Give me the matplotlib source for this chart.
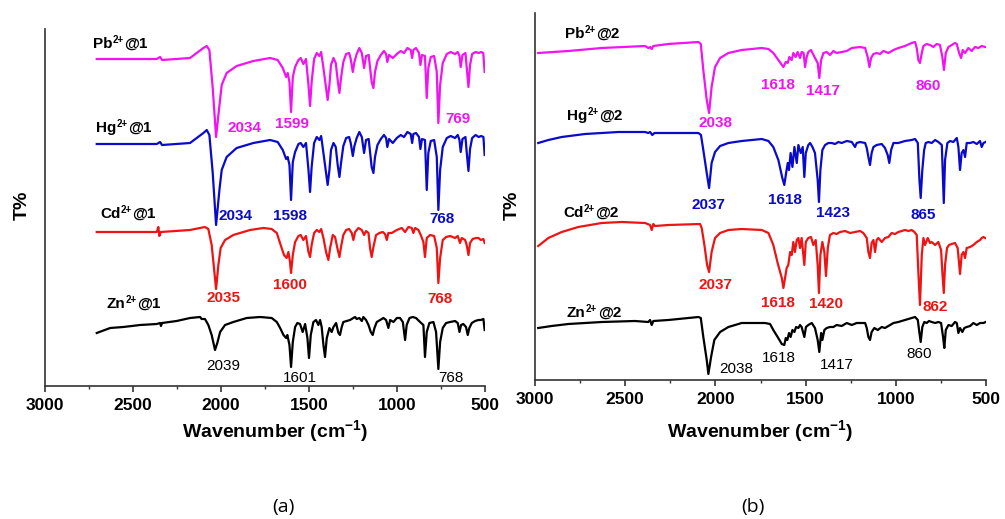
import matplotlib
matplotlib.use("Agg")
import matplotlib.pyplot as plt

plt.rcParams["font.family"] = ["Liberation Sans", "DejaVu Sans"]
plt.rcParams["mathtext.fontset"] = "custom"
plt.rcParams["mathtext.rm"] = "Liberation Sans"
plt.rcParams["mathtext.bf"] = "Liberation Sans:bold"

MAGENTA = "#F014F0"
BLUE = "#0A0ACC"
RED = "#EE1414"
BLACK = "#000000"

# ---- panel (a): M2+@1 spectra (wavenumber, T% with stacking offset) ----
pb1_wn = [2706, 2365, 2346, 2335, 2176, 2100, 2081, 2066, 2047, 2028, 2013, 1996, 1968, 1911, 1816, 1721,
          1678, 1649, 1630, 1621, 1611, 1602, 1592, 1579, 1560, 1547, 1532, 1517, 1503, 1494, 1485, 1471,
          1456, 1441, 1431, 1418, 1403, 1394, 1384, 1375, 1361, 1348, 1337, 1327, 1318, 1305, 1289, 1272,
          1263, 1251, 1242, 1229, 1214, 1200, 1187, 1176, 1161, 1144, 1134, 1125, 1111, 1092, 1074, 1062,
          1055, 1045, 1024, 1001, 979, 960, 941, 922, 914, 907, 892, 875, 867, 858, 841, 831, 822, 808, 789,
          774, 765, 755, 740, 717, 695, 670, 655, 645, 638, 628, 611, 604, 594, 585, 573, 553, 536, 522, 510, 502]
pb1_t = [327, 327, 329, 326, 328, 338, 340, 336, 298, 249, 274, 301, 313, 320, 325, 328,
         326, 318, 309, 313, 304, 274, 309, 319, 326, 328, 322, 327, 301, 280, 304, 327,
         333, 330, 334, 318, 298, 286, 301, 321, 328, 323, 306, 293, 308, 324, 332, 333,
         327, 314, 324, 332, 338, 333, 318, 330, 331, 304, 298, 314, 325, 331, 335, 332,
         324, 331, 328, 332, 335, 333, 338, 336, 328, 336, 338, 333, 321, 331, 330, 288, 318, 329, 330,
         314, 263, 301, 323, 332, 334, 332, 334, 330, 319, 331, 333, 319, 299, 321, 332, 334, 333, 334, 333, 314]

hg1_wn = [2706, 2365, 2346, 2335, 2176, 2100, 2081, 2066, 2047, 2028, 2009, 1996, 1968, 1911, 1816, 1721,
          1678, 1649, 1630, 1621, 1611, 1602, 1592, 1579, 1560, 1547, 1532, 1517, 1503, 1494, 1485, 1471,
          1456, 1441, 1431, 1418, 1403, 1394, 1384, 1375, 1361, 1348, 1337, 1327, 1318, 1305, 1289, 1272,
          1263, 1251, 1242, 1229, 1214, 1200, 1187, 1176, 1161, 1144, 1134, 1125, 1111, 1092, 1074, 1062,
          1055, 1045, 1024, 1001, 979, 960, 941, 922, 914, 907, 892, 875, 867, 858, 841, 831, 822, 808, 789,
          774, 765, 755, 740, 717, 695, 670, 655, 645, 638, 628, 611, 604, 594, 585, 573, 553, 536, 522, 509, 502]
hg1_t = [242, 242, 244, 241, 243, 253, 256, 251, 213, 161, 196, 216, 229, 238, 243, 246,
         244, 236, 227, 229, 221, 186, 224, 234, 242, 243, 239, 243, 216, 194, 219, 243,
         249, 246, 250, 233, 213, 201, 216, 236, 243, 239, 221, 209, 223, 240, 248, 249,
         243, 230, 240, 248, 254, 249, 233, 246, 247, 219, 213, 229, 241, 247, 251, 248,
         239, 247, 243, 248, 251, 249, 254, 252, 243, 252, 253, 249, 237, 247, 246, 196, 233, 245, 246,
         229, 176, 216, 239, 248, 250, 248, 251, 246, 234, 247, 249, 234, 215, 237, 248, 251, 249, 250, 249, 231]

cd1_wn = [2706, 2365, 2356, 2350, 2342, 2176, 2091, 2072, 2053, 2028, 2015, 2002, 1977, 1930, 1835, 1759,
          1712, 1683, 1661, 1642, 1627, 1617, 1608, 1602, 1592, 1579, 1560, 1547, 1532, 1517, 1503, 1494,
          1485, 1471, 1456, 1441, 1431, 1418, 1403, 1390, 1380, 1365, 1352, 1339, 1327, 1318, 1305, 1289,
          1272, 1257, 1248, 1238, 1219, 1200, 1187, 1176, 1162, 1153, 1144, 1134, 1119, 1100, 1081, 1068,
          1058, 1049, 1030, 1001, 973, 954, 935, 916, 907, 897, 878, 865, 850, 841, 831, 812, 789, 774, 765,
          755, 740, 721, 698, 670, 655, 642, 632, 613, 604, 594, 585, 570, 551, 537, 524, 509, 502]
cd1_t = [154, 154, 159, 150, 154, 156, 159, 157, 141, 97, 121, 138, 146, 151, 156, 158,
         157, 153, 141, 131, 128, 134, 124, 113, 131, 144, 150, 151, 146, 150, 134, 129,
         141, 153, 156, 154, 157, 148, 134, 126, 138, 151, 149, 138, 129, 139, 151, 156,
         157, 153, 146, 154, 158, 156, 151, 155, 153, 138, 129, 139, 151, 153, 154, 152,
         146, 153, 153, 156, 158, 154, 159, 158, 153, 158, 156, 151, 144, 129, 148, 151, 150, 138, 103,
         128, 146, 149, 150, 148, 150, 143, 148, 146, 141, 131, 143, 147, 148, 148, 146, 147, 143]

zn1_wn = [2706, 2630, 2555, 2460, 2365, 2346, 2341, 2335, 2252, 2176, 2119, 2110, 2091, 2072, 2053, 2034,
          2021, 2005, 1977, 1930, 1854, 1778, 1712, 1683, 1664, 1645, 1630, 1623, 1611, 1602, 1592, 1579,
          1566, 1551, 1536, 1522, 1509, 1500, 1490, 1475, 1460, 1447, 1437, 1428, 1418, 1409, 1399, 1384,
          1371, 1361, 1346, 1333, 1324, 1314, 1305, 1286, 1267, 1248, 1238, 1229, 1214, 1200, 1191, 1176,
          1162, 1149, 1138, 1128, 1115, 1096, 1077, 1062, 1049, 1039, 1020, 1001, 983, 967, 954, 945, 929,
          911, 892, 869, 850, 841, 831, 816, 793, 778, 765, 755, 740, 721, 698, 670, 655, 645, 636, 623, 608,
          598, 589, 575, 556, 537, 524, 509, 502]
zn1_t = [53, 58, 59, 61, 62, 63, 60, 63, 65, 68, 69, 67, 67, 61, 51, 36,
         43, 54, 61, 64, 68, 69, 68, 64, 58, 51, 48, 51, 41, 19, 44, 59,
         63, 62, 54, 62, 48, 28, 51, 64, 66, 61, 66, 59, 41, 29, 48, 58,
         54, 59, 63, 53, 51, 59, 64, 65, 66, 68, 69, 67, 68, 65, 69, 66,
         61, 54, 51, 58, 64, 66, 68, 66, 58, 66, 64, 68, 68, 64, 46, 61, 68,
         69, 68, 64, 61, 29, 54, 63, 64, 54, 17, 44, 58, 63, 64, 65, 63, 54, 61, 62, 59,
         51, 58, 63, 65, 66, 66, 67, 56]

# ---- panel (b): M2+@2 spectra ----
pb2_wn = [2982, 2815, 2630, 2390, 2372, 2362, 2353, 2344, 2261, 2094, 2081, 2067, 2048, 2035, 2021, 2002,
          1974, 1928, 1854, 1743, 1706, 1679, 1651, 1623, 1610, 1599, 1590, 1577, 1568, 1555, 1544, 1531,
          1522, 1511, 1503, 1494, 1485, 1470, 1448, 1433, 1424, 1414, 1401, 1383, 1365, 1346, 1328, 1300,
          1272, 1244, 1198, 1170, 1156, 1146, 1137, 1124, 1106, 1087, 1069, 1041, 1013, 986, 949, 912, 893,
          884, 875, 866, 856, 847, 829, 810, 792, 773, 755, 742, 733, 723, 708, 690, 672, 662, 649, 638,
          629, 616, 598, 579, 561, 542, 524, 505]
pb2_t = [327, 329, 332, 334, 332, 333, 331, 334, 336, 338, 336, 310, 280, 267, 293, 313,
         322, 327, 330, 332, 331, 327, 320, 313, 318, 317, 323, 320, 327, 323, 328, 322,
         328, 327, 313, 323, 328, 330, 322, 317, 302, 320, 327, 328, 325, 329, 327, 328,
         329, 332, 333, 332, 323, 313, 322, 326, 327, 326, 329, 327, 330, 332, 334, 337, 338,
         332, 320, 317, 327, 334, 336, 335, 333, 336, 335, 323, 310, 327, 333, 335, 337, 336, 327, 322,
         330, 327, 332, 329, 333, 332, 334, 333]

hg2_wn = [2982, 2926, 2852, 2723, 2538, 2390, 2372, 2362, 2350, 2338, 2261, 2094, 2080, 2067, 2048, 2035,
          2021, 2002, 1974, 1928, 1854, 1743, 1706, 1679, 1651, 1629, 1618, 1608, 1599, 1592, 1583, 1573,
          1562, 1549, 1540, 1527, 1516, 1507, 1499, 1485, 1475, 1462, 1448, 1433, 1426, 1418, 1407, 1392,
          1374, 1355, 1337, 1318, 1300, 1272, 1244, 1226, 1217, 1198, 1170, 1161, 1152, 1143, 1134, 1124,
          1106, 1078, 1060, 1045, 1036, 1026, 1013, 986, 949, 912, 893, 878, 869, 862, 853, 843, 834, 819,
          801, 782, 764, 745, 734, 727, 714, 699, 681, 662, 653, 644, 635, 625, 616, 607, 588, 570, 551,
          533, 524, 514, 502]
hg2_t = [237, 240, 243, 246, 248, 248, 247, 248, 245, 247, 247, 247, 245, 230, 207, 192,
         217, 228, 234, 237, 239, 241, 239, 233, 220, 202, 195, 207, 217, 210, 227, 213,
         233, 217, 235, 227, 233, 203, 227, 235, 237, 233, 227, 200, 178, 210, 230, 235,
         237, 237, 236, 238, 237, 239, 238, 233, 237, 238, 237, 232, 223, 215, 227, 233,
         235, 236, 232, 225, 217, 230, 237, 237, 239, 240, 241, 237, 200, 182, 210, 230, 237, 238,
         237, 240, 238, 235, 177, 220, 237, 239, 238, 242, 233, 210, 227, 230, 223, 237, 237, 238, 236,
         239, 233, 237, 238]

cd2_wn = [2982, 2926, 2852, 2760, 2630, 2520, 2390, 2362, 2353, 2344, 2335, 2261, 2085, 2076, 2061, 2046,
          2035, 2021, 2002, 1974, 1928, 1854, 1743, 1706, 1679, 1655, 1632, 1623, 1614, 1605, 1596, 1586,
          1577, 1568, 1559, 1549, 1540, 1531, 1522, 1507, 1499, 1485, 1470, 1457, 1444, 1433, 1426, 1418,
          1407, 1396, 1387, 1377, 1365, 1346, 1328, 1309, 1281, 1254, 1226, 1198, 1180, 1161, 1152, 1143,
          1134, 1124, 1115, 1106, 1097, 1078, 1060, 1041, 1023, 1004, 986, 967, 949, 930, 912, 897, 884, 875,
          866, 856, 847, 838, 823, 810, 801, 782, 764, 749, 742, 734, 727, 716, 705, 690, 672, 657, 644,
          635, 625, 616, 607, 588, 570, 551, 533, 524, 514, 505]
cd2_t = [134, 142, 148, 153, 157, 158, 157, 155, 150, 156, 154, 155, 156, 152, 135, 115,
         108, 128, 142, 147, 150, 151, 150, 147, 135, 117, 102, 92, 102, 112, 115, 128,
         125, 138, 128, 140, 142, 132, 142, 115, 138, 142, 143, 135, 140, 115, 87, 125,
         138, 128, 104, 132, 145, 147, 146, 148, 149, 147, 148, 149, 147, 142, 128, 122,
         137, 140, 128, 140, 142, 138, 142, 143, 147, 146, 148, 149, 150, 149, 150, 148, 145, 108,
         75, 125, 142, 135, 142, 137, 138, 135, 138, 130, 108, 87, 115, 132, 135, 136, 137, 132, 106,
         125, 128, 122, 132, 133, 135, 138, 140, 142, 143, 142]

zn2_wn = [2982, 2908, 2815, 2630, 2446, 2372, 2362, 2353, 2344, 2261, 2094, 2081, 2067, 2048, 2039, 2024,
          2006, 1974, 1928, 1854, 1725, 1697, 1679, 1655, 1632, 1618, 1610, 1601, 1592, 1583, 1573, 1562,
          1553, 1540, 1531, 1522, 1507, 1498, 1485, 1466, 1448, 1433, 1424, 1414, 1407, 1396, 1383, 1365,
          1346, 1328, 1300, 1272, 1244, 1217, 1189, 1170, 1161, 1152, 1143, 1134, 1119, 1100, 1078, 1060,
          1041, 1013, 986, 949, 912, 893, 878, 869, 862, 853, 842, 829, 816, 801, 782, 764, 749, 738, 731,
          723, 708, 690, 672, 662, 653, 644, 631, 620, 607, 588, 570, 551, 533, 514, 502]
zn2_t = [52, 54, 56, 58, 59, 58, 60, 55, 59, 60, 63, 62, 43, 20, 6, 23,
         40, 48, 53, 57, 57, 56, 50, 43, 36, 35, 42, 40, 47, 43, 50, 48,
         53, 52, 55, 53, 43, 53, 55, 57, 52, 40, 28, 47, 40, 50, 52, 53,
         53, 55, 54, 57, 55, 57, 57, 57, 52, 43, 40, 48, 52, 50, 53, 52,
         54, 57, 58, 60, 62, 63, 60, 47, 38, 53, 58, 57, 59, 58, 57, 58, 57, 43, 32,
         50, 55, 54, 58, 57, 47, 52, 48, 52, 53, 54, 57, 55, 57, 57, 58]

# sample names (baseline position) and peak labels
names_a = [("Pb", 2727, 338), ("Hg", 2710, 254), ("Cd", 2687, 168), ("Zn", 2653, 78)]
names_b = [("Pb", 2834, 342), ("Hg", 2823, 260), ("Cd", 2845, 163), ("Zn", 2823, 63)]

peaks_a = [(1864, 258, "2034", MAGENTA), (1597, 262, "1599", MAGENTA), (653, 267, "769", MAGENTA),
           (1915, 170, "2034", BLUE), (1608, 170, "1598", BLUE), (744, 167, "768", BLUE),
           (1983, 88, "2035", RED), (1608, 101, "1600", RED), (756, 87, "768", RED),
           (1989, 20, "2039", BLACK), (1551, 8, "1601", BLACK), (693, 8, "768", BLACK)]
peaks_b = [(2002, 257, "2038", MAGENTA), (1653, 295, "1618", MAGENTA), (1404, 289, "1417", MAGENTA),
           (822, 294, "860", MAGENTA),
           (2041, 175, "2037", BLUE), (1614, 180, "1618", BLUE), (1348, 167, "1423", BLUE), (849, 165, "865", BLUE),
           (2002, 95, "2037", RED), (1653, 77, "1618", RED), (1387, 76, "1420", RED), (783, 73, "862", RED),
           (1886, 11, "2038", BLACK), (1647, 22, "1618", BLACK), (1326, 15, "1417", BLACK), (871, 26, "860", BLACK)]

W, H = 1005, 519
fig = plt.figure(figsize=(W / 100, H / 100), dpi=100)
fig.patch.set_facecolor("white")

ax_a = fig.add_axes([45 / W, 1 - 386 / H, 440 / W, 357 / H])
ax_b = fig.add_axes([535 / W, 1 - 380 / H, 451 / W, 367 / H])

traces_a = [(pb1_wn, pb1_t, MAGENTA), (hg1_wn, hg1_t, BLUE), (cd1_wn, cd1_t, RED), (zn1_wn, zn1_t, BLACK)]
traces_b = [(pb2_wn, pb2_t, MAGENTA), (hg2_wn, hg2_t, BLUE), (cd2_wn, cd2_t, RED), (zn2_wn, zn2_t, BLACK)]

for ax, traces, names, peaks, suffix, ytop in [
        (ax_a, traces_a, names_a, peaks_a, "1", 357),
        (ax_b, traces_b, names_b, peaks_b, "2", 367)]:
    for wn, t, c in traces:
        ax.plot(wn, t, color=c, lw=1.6, solid_joinstyle="round")
    # name like Pb^{2+}@1, built from three pieces so the superscript stays small
    for metal, x, y in names:
        t1 = ax.text(x, y, metal, fontsize=11, fontweight="bold", ha="left", va="baseline")
        t2 = ax.annotate("2+", xy=(1, 1), xycoords=t1, xytext=(0.3, 1.5), textcoords="offset points",
                         fontsize=7, fontweight="bold", ha="left", va="top")
        ax.annotate("@" + suffix, xy=(1, 0), xycoords=(t2, t1), xytext=(0.3, 0), textcoords="offset points",
                    fontsize=11, fontweight="bold", ha="left", va="bottom")
    for x, y, s, c in peaks:
        ax.text(x, y, s, fontsize=11, color=c, ha="center", va="center",
                fontweight="normal" if c == BLACK else "bold")
    ax.set_xlim(3000, 500)
    ax.set_ylim(0, ytop)
    ax.set_xticks([3000, 2500, 2000, 1500, 1000, 500])
    ax.set_xticks([2750, 2250, 1750, 1250, 750], minor=True)
    ax.set_yticks([])
    for side in ("top", "right"):
        ax.spines[side].set_visible(False)
    for side in ("left", "bottom"):
        ax.spines[side].set_color("#333333")
        ax.spines[side].set_linewidth(1.2)
    ax.tick_params(axis="x", which="major", direction="out", length=4, width=1.2, pad=5,
                   labelsize=12.5, colors="#333333", labelcolor="black")
    ax.tick_params(axis="x", which="minor", direction="out", length=2.5, width=1.0, colors="#333333")
    for lab in ax.get_xticklabels():
        lab.set_fontweight("bold")

for x_px, y_px in [(22, 205), (512, 205)]:
    fig.text(x_px / W, 1 - y_px / H, "T%", rotation=90, fontsize=14, fontweight="bold",
             ha="center", va="center")
for x_px in (275, 760):
    fig.text(x_px / W, 1 - 432 / H, r"Wavenumber (cm$^{\mathbf{-1}}$)", fontsize=14, fontweight="bold",
             ha="center", va="center")
for x_px, s in [(283, "(a)"), (753, "(b)")]:
    fig.text(x_px / W, 1 - 507 / H, s, fontsize=14, family=["Open Sans", "DejaVu Sans"],
             ha="center", va="center")

fig.savefig("out.png", dpi=100)
